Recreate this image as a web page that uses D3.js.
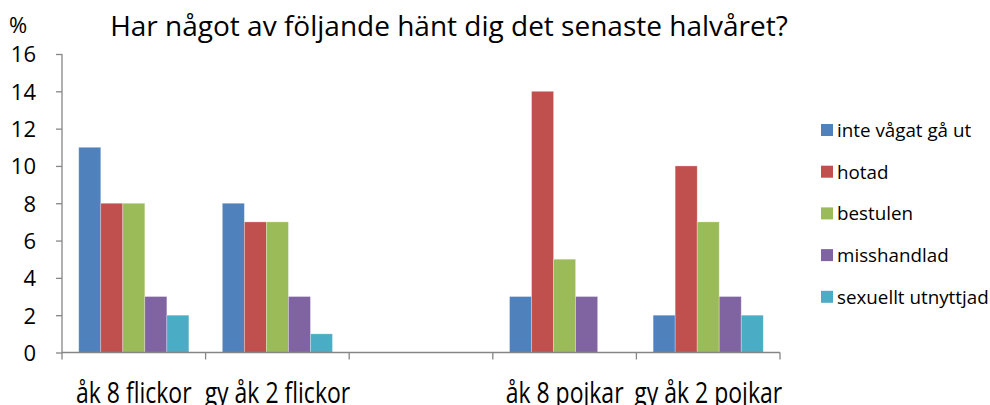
<!DOCTYPE html>
<html>
<head>
<meta charset="utf-8">
<script src="https://cdn.jsdelivr.net/npm/d3@7"></script>
<style>
  body { margin: 0; background: #fff; }
  svg { display: block; font-family: "Open Sans", sans-serif; }
</style>
</head>
<body>
<svg id="chart" width="990" height="405"></svg>
<script>
// data
const categories = ["åk 8 flickor", "gy åk 2 flickor", "", "åk 8 pojkar", "gy åk 2 pojkar"];
const series = ["inte vågat gå ut", "hotad", "bestulen", "misshandlad", "sexuellt utnyttjad"];
const colors = ["#4F81BD", "#C0504D", "#9BBB59", "#8064A2", "#4BACC6"];
const inteVagat = [11, 8, null, 3, 2];
const hotad = [8, 7, null, 14, 10];
const bestulen = [8, 7, null, 5, 7];
const misshandlad = [3, 3, null, 3, 3];
const sexuellt = [2, 1, null, 0, 2];
const yTicks = [0, 2, 4, 6, 8, 10, 12, 14, 16];

const values = [inteVagat, hotad, bestulen, misshandlad, sexuellt];

const svg = d3.select("#chart");
const mLeft = 62, mRight = 780, mTop = 54, mBottom = 352.5;

const x0 = d3.scaleBand().domain(d3.range(categories.length)).range([mLeft, mRight]).padding(0);
const x1 = d3.scaleBand().domain(d3.range(series.length)).range([0, x0.bandwidth()])
  .paddingInner(0).paddingOuter(0.76);
const y = d3.scaleLinear().domain([0, 16]).range([mBottom, mTop]);

const axisColor = "#868686";

// title
svg.append("text")
  .attr("x", 449).attr("y", 36)
  .attr("text-anchor", "middle")
  .attr("font-size", 28)
  .attr("fill", "#000")
  .text("Har något av följande hänt dig det senaste halvåret?");

svg.append("text")
  .attr("x", 9).attr("y", 33)
  .attr("font-size", 22)
  .text("%");

// bars
const groups = svg.append("g");
series.forEach((s, si) => {
  groups.selectAll(null)
    .data(values[si].map((v, ci) => ({ v, ci })).filter(d => d.v != null && d.v > 0))
    .enter().append("rect")
    .attr("x", d => x0(d.ci) + x1(si))
    .attr("y", d => y(d.v))
    .attr("width", x1.bandwidth())
    .attr("height", d => y(0) - y(d.v))
    .attr("fill", colors[si])
    .attr("stroke", "rgba(255,255,255,0.35)")
    .attr("stroke-width", 0.8);
});

// y axis
const yAxis = svg.append("g").attr("transform", `translate(${mLeft},0)`)
  .call(d3.axisLeft(y).tickValues(yTicks).tickSize(6).tickPadding(20));
yAxis.select(".domain").attr("stroke", axisColor).attr("stroke-width", 1.3)
  .attr("d", `M0,${mTop}V${mBottom}`);
yAxis.selectAll(".tick line").attr("stroke", axisColor).attr("stroke-width", 1.3);
yAxis.selectAll(".tick text").attr("font-size", 22).attr("fill", "#000")
  .attr("font-family", "Open Sans, sans-serif").attr("dy", "0.36em");

// x axis with ticks at category boundaries
const xg = svg.append("g");
xg.append("line")
  .attr("x1", mLeft).attr("x2", mRight)
  .attr("y1", mBottom).attr("y2", mBottom)
  .attr("stroke", axisColor).attr("stroke-width", 1.5);
const bounds = d3.range(categories.length).map(i => x0(i)).concat([x0(categories.length - 1) + x0.bandwidth()]);
xg.selectAll(null).data(bounds).enter().append("line")
  .attr("x1", d => d).attr("x2", d => d)
  .attr("y1", mBottom).attr("y2", mBottom + 7)
  .attr("stroke", axisColor).attr("stroke-width", 1.3);
// labels sit low and a little tall, running into the bottom edge as in the source
xg.selectAll(null).data(categories).enter().append("text")
  .attr("transform", (d, i) => `translate(${x0(i) + x0.bandwidth() / 2},403) scale(1,1.3)`)
  .attr("text-anchor", "middle")
  .attr("font-size", 23)
  .text(d => d);

// legend
const legend = svg.append("g");
series.forEach((s, i) => {
  const cy = 130 + i * 41.7;
  legend.append("rect")
    .attr("x", 821).attr("y", cy - 6)
    .attr("width", 12).attr("height", 12)
    .attr("fill", colors[i]);
  legend.append("text")
    .attr("x", 837).attr("y", cy + 7)
    .attr("font-size", 18.8)
    .text(s);
});
</script>
</body>
</html>
